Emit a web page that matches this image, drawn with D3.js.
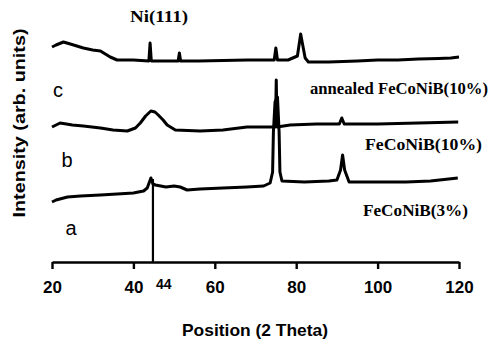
<!DOCTYPE html>
<html>
<head>
<meta charset="utf-8">
<script src="https://cdn.jsdelivr.net/npm/d3@7"></script>
<style>
  body { margin: 0; background: #fff; }
  .serif { font-family: "Liberation Serif", "Times New Roman", serif; font-weight: bold; }
  .sans { font-family: "Liberation Sans", Arial, sans-serif; }
</style>
</head>
<body>
<div id="xrd"></div>
<script>
// 2 theta positions and intensities (arb.)
const curveC = [[20,215],[21,217],[22.8,220],[24.5,218],[27.7,214],[30,212],[31.9,211],[34.3,205],[36,202],[40,202],
  [43.8,201],[44.1,219],[44.4,201],[48,201],[51.0,201],[51.3,209],[51.6,201],[56,201],[62,201.5],[68,202],
  [74.6,202],[75.0,214],[75.4,202],[78,202],[80.3,206],[81.1,228],[81.6,217],[82.2,204],[83,200],[88,200],
  [95,201],[100,202],[105,202],[110,203],[115,203.5],[118,204],[120,205]];

const curveB = [[20,135],[22,139],[25,137],[27.7,136],[31.9,134],[35,132],[38.5,131],[40.5,134],[41.7,139],[43,146],
  [44.3,151],[45.3,150],[46.1,147],[47.3,142],[48.3,137],[50.3,132],[56.4,131],[62,132],[67.9,135],[72,135],
  [74.9,135],[75.1,182],[75.3,135],[78.5,137],[85,138],[90.6,138],[91.2,144],[91.8,138],[100,138],[110,139],[119.8,140]];

const curveA = [[20,60],[21,62],[23.8,65],[27,66],[31.9,67],[36,68],[40,69],[42.5,71],[43.4,74],[44.3,84],
  [44.8,78],[45.4,77],[48,75],[50,76],[51.5,75],[53.2,72],[56.4,73],[62,74],[67.9,75],[72,76],
  [73.6,79],[74.2,90],[74.4,130],[74.8,160],[75.4,165],[75.8,130],[76.0,90],[76.5,81],[82,80],[88,81],
  [90.0,82],[90.9,92],[91.4,107],[91.9,92],[93,80],[100,80],[107,80],[113,81],[119.7,84]];

const xTicks = [20, 40, 60, 80, 100, 120];
const niLine = { theta: 44.8, top: 83, label: '44' };
const curveNames = ['c', 'b', 'a'];
const sampleNames = ['annealed FeCoNiB(10%)', 'FeCoNiB(10%)', 'FeCoNiB(3%)'];
const peakLabel = 'Ni(111)';

let margin = { top: 0, right: 33, bottom: 82, left: 52 };
let width = 492 - margin.left - margin.right;
let height = 344 - margin.top - margin.bottom;

let svg = d3.select('#xrd').append('svg')
  .attr('width', 492).attr('height', 344);

let g = svg.append('g')
  .attr('transform', `translate(${margin.left},${margin.top})`);

let x = d3.scaleLinear().domain([20, 120]).range([0, width]);
let y = d3.scaleLinear().domain([0, height]).range([height, 0]);

let line = d3.line().x(d => x(d[0])).y(d => y(d[1]));

// spectra
[curveC, curveB, curveA].forEach(c => {
  g.append('path')
    .attr('d', line(c))
    .attr('fill', 'none')
    .attr('stroke', '#000')
    .attr('stroke-width', 3)
    .attr('stroke-linejoin', 'round');
});

// marker line at 44
g.append('line')
  .attr('x1', x(niLine.theta)).attr('x2', x(niLine.theta))
  .attr('y1', y(0)).attr('y2', y(niLine.top))
  .attr('stroke', '#000').attr('stroke-width', 2.2);

// x axis
let xAxis = g.append('g')
  .attr('transform', `translate(0,${height})`)
  .call(d3.axisBottom(x).tickValues(xTicks).tickSize(7).tickSizeOuter(0).tickPadding(12));
xAxis.select('.domain').attr('stroke-width', 2.4);
xAxis.selectAll('.tick line').attr('stroke-width', 2.4);
xAxis.selectAll('.tick text')
  .attr('class', 'sans')
  .style('font-size', '17px').style('font-weight', 'bold')
  .attr('fill', '#000');

g.append('text')
  .attr('class', 'sans')
  .attr('x', x(niLine.theta) + 3).attr('y', height + 27)
  .style('font-size', '14px').style('font-weight', 'bold')
  .text(niLine.label);

// axis titles
svg.append('text')
  .attr('class', 'sans')
  .attr('x', 255).attr('y', 336)
  .attr('text-anchor', 'middle')
  .attr('textLength', 146).attr('lengthAdjust', 'spacingAndGlyphs')
  .style('font-size', '17px').style('font-weight', 'bold')
  .text('Position (2 Theta)');

svg.append('text')
  .attr('class', 'sans')
  .attr('transform', 'translate(25,123) rotate(-90)')
  .attr('text-anchor', 'middle')
  .attr('textLength', 189).attr('lengthAdjust', 'spacingAndGlyphs')
  .style('font-size', '16px').style('font-weight', 'bold')
  .text('Intensity (arb. units)');

// curve letters
const letterPos = [[58, 97], [67, 167], [71, 235]];
curveNames.forEach((n, i) => {
  svg.append('text')
    .attr('class', 'sans')
    .attr('x', letterPos[i][0]).attr('y', letterPos[i][1])
    .attr('text-anchor', 'middle')
    .style('font-size', '20px')
    .text(n);
});

// sample labels
const samplePos = [[310, 94, 178], [365, 150, 117], [363, 216, 105]];
sampleNames.forEach((n, i) => {
  svg.append('text')
    .attr('class', 'serif')
    .attr('x', samplePos[i][0]).attr('y', samplePos[i][1])
    .attr('textLength', samplePos[i][2]).attr('lengthAdjust', 'spacingAndGlyphs')
    .style('font-size', '16px')
    .text(n);
});

svg.append('text')
  .attr('class', 'serif')
  .attr('x', 130).attr('y', 22)
  .attr('textLength', 58).attr('lengthAdjust', 'spacingAndGlyphs')
  .style('font-size', '17px')
  .text(peakLabel);
</script>
</body>
</html>
